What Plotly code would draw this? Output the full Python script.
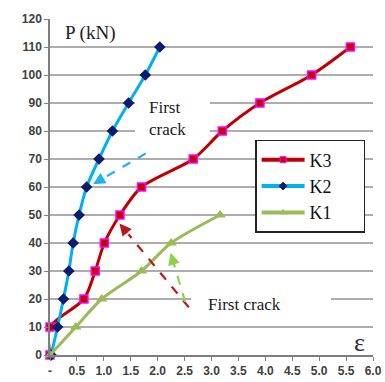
import plotly.graph_objects as go

# ---- data ----
load_kN = [0, 10, 20, 30, 40, 50, 60, 70, 80, 90, 100, 110]
k3_strain = [0, 0, 0.63, 0.84, 1.01, 1.30, 1.70, 2.66, 3.20, 3.90, 4.86, 5.58]
k2_strain = [0.02, 0.14, 0.25, 0.35, 0.43, 0.54, 0.68, 0.91, 1.16, 1.46, 1.77, 2.04]
k1_load = [0, 10, 20, 30, 40, 50]
k1_strain = [0, 0.48, 0.96, 1.70, 2.25, 3.16]

x_tickvals = [0, 0.5, 1.0, 1.5, 2.0, 2.5, 3.0, 3.5, 4.0, 4.5, 5.0, 5.5, 6.0]
x_ticktext = ["-", "0.5", "1.0", "1.5", "2.0", "2.5", "3.0", "3.5", "4.0", "4.5", "5.0", "5.5", "6.0"]
y_tickvals = [0, 10, 20, 30, 40, 50, 60, 70, 80, 90, 100, 110, 120]

# arrows: (tail_x, tail_y, tip_x, tip_y, colour)
arrows = [
    (1.78, 72.0, 0.80, 61.0, "#1BB4EE"),
    (2.58, 17.0, 1.29, 47.0, "#C0141C"),
    (2.51, 19.0, 2.24, 36.5, "#8FD14F"),
]

RED = "#C00000"
BLUE = "#00B0F0"
GREEN = "#9BBB59"
SERIF = "Liberation Serif"
SANS = "Liberation Sans"
PAD = "\u00a0" * 6

fig = go.Figure()

fig.add_trace(go.Scatter(
    x=k3_strain, y=load_kN, mode="lines+markers", name="K3", showlegend=False,
    line=dict(color=RED, width=3, shape="spline", smoothing=0.8),
    marker=dict(symbol="square", size=8, color=RED, line=dict(color="#FF00FF", width=1.5)),
    cliponaxis=False,
))
fig.add_trace(go.Scatter(
    x=k2_strain, y=load_kN, mode="lines+markers", name="K2", showlegend=False,
    line=dict(color=BLUE, width=3, shape="spline", smoothing=0.8),
    marker=dict(symbol="diamond", size=9, color="#0D1B6E"),
    cliponaxis=False,
))
fig.add_trace(go.Scatter(
    x=k1_strain, y=k1_load, mode="lines+markers", name="K1", showlegend=False,
    line=dict(color=GREEN, width=3, shape="spline", smoothing=0.8),
    marker=dict(symbol="triangle-up", size=10, color=GREEN),
    cliponaxis=False,
))

# legend-only entries (small legend markers)
for name, col, sym, mcol, mline in [
    ("K3", RED, "square", RED, "#FF00FF"),
    ("K2", BLUE, "diamond", "#0D1B6E", "#0D1B6E"),
    ("K1", GREEN, "triangle-up", GREEN, GREEN),
]:
    fig.add_trace(go.Scatter(
        x=[None], y=[None], mode="lines+markers", name=name + PAD, legendgroup=name,
        line=dict(color=col, width=4),
        marker=dict(symbol=sym, size=6, color=mcol, line=dict(color=mline, width=1)),
    ))

shapes = []
# white boxes behind text (hide gridlines)
shapes.append(dict(type="rect", xref="x", yref="y", x0=1.58, x1=2.97, y0=73, y1=97,
                   fillcolor="white", line=dict(width=0), layer="between"))
shapes.append(dict(type="rect", xref="x", yref="y", x0=2.62, x1=5.22, y0=14, y1=25,
                   fillcolor="white", line=dict(width=0), layer="between"))

annotations = []
for tx, ty, hx, hy, col in arrows:
    f = 0.13
    mx = hx + (tx - hx) * f
    my = hy + (ty - hy) * f
    shapes.append(dict(type="line", xref="x", yref="y", x0=tx, y0=ty, x1=mx, y1=my,
                       line=dict(color=col, width=2.2, dash="dash"), layer="above"))
    annotations.append(dict(x=hx, y=hy, ax=mx, ay=my, xref="x", yref="y",
                            axref="x", ayref="y", text="", showarrow=True,
                            arrowhead=2, arrowsize=1.1, arrowwidth=2.2, arrowcolor=col))

annotations += [
    dict(x=0.75, y=115, xref="x", yref="y", text="P (kN)", showarrow=False,
         font=dict(family=SERIF, size=19, color="#202020")),
    dict(x=1.80, y=84.5, xref="x", yref="y", text="First<br>crack", showarrow=False,
         align="left", xanchor="left", font=dict(family=SERIF, size=17, color="#202020")),
    dict(x=3.62, y=17.9, xref="x", yref="y", text="First crack", showarrow=False,
         font=dict(family=SERIF, size=17, color="#202020")),
    dict(x=5.74, y=4.5, xref="x", yref="y", text="ε", showarrow=False,
         font=dict(family=SERIF, size=26, color="#303030")),
]

tickfont = dict(family=SANS, size=12, color="#404040", weight=700)

fig.update_layout(
    width=385, height=382,
    margin=dict(l=50, r=12, t=19, b=27, autoexpand=False),
    paper_bgcolor="white", plot_bgcolor="white",
    shapes=shapes, annotations=annotations,
    legend=dict(x=0.635, y=0.64, xanchor="left", yanchor="top",
                bgcolor="white", bordercolor="#222222", borderwidth=1.5,
                font=dict(family=SERIF, size=18, color="#111111"),
                tracegroupgap=0, itemwidth=43),
    xaxis=dict(range=[0, 6], tickvals=x_tickvals, ticktext=x_ticktext, automargin=False,
               showgrid=False, zeroline=False, showline=True, linecolor="#7F7F7F",
               linewidth=1.5, ticks="outside", ticklen=4, tickcolor="#7F7F7F",
               tickfont=tickfont),
    yaxis=dict(range=[0, 120], tickvals=y_tickvals, automargin=False,
               showgrid=True, gridcolor="#ADADAD", gridwidth=1.5, zeroline=False,
               showline=True, linecolor="#7F7F7F", linewidth=1.5,
               ticks="outside", ticklen=4, tickcolor="#7F7F7F",
               tickfont=tickfont),
)

fig.write_html("out.html", config={"displayModeBar": False},
               post_script="document.body.style.margin='0';document.body.style.overflow='hidden';")
